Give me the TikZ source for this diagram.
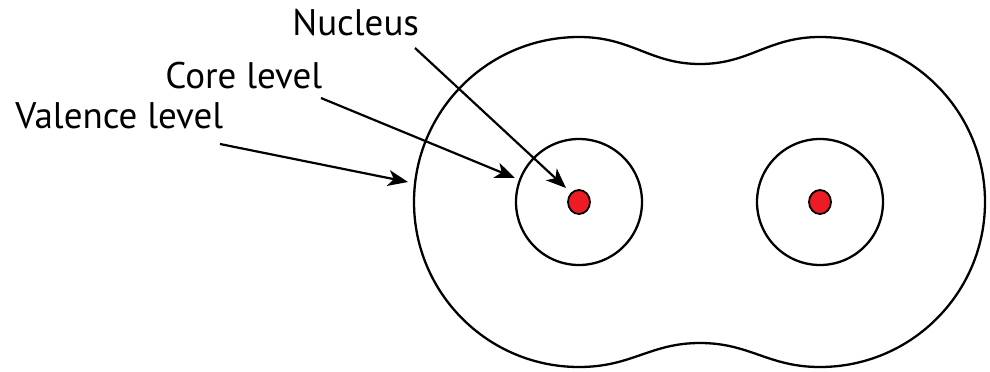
\documentclass[tikz,border=0pt]{standalone}
\usepackage{fontspec}
\setmainfont{PT Sans}
\usetikzlibrary{arrows.meta}
\definecolor{nucred}{HTML}{ED1C24}
\tikzset{
  shell/.style={line width=1.15pt},
  nucdot/.style={fill=nucred, draw=black, line width=0.9pt},
  lbl/.style={anchor=base west, inner sep=0pt, font=\fontsize{18.5}{20}\selectfont},
  pointer/.style={line width=1.1pt, -{Stealth[length=10pt,width=8pt,inset=2.8pt]}}
}
\begin{document}
\begin{tikzpicture}[x=0.5pt,y=0.5pt]
        \useasboundingbox (0,0) rectangle (990,371);
        \coordinate (L) at (579,169);
        \coordinate (R) at (820,169);
        % outer valence level
        \draw[shell] (579,334) arc[start angle=90, end angle=270, radius=165]
            .. controls (632,4) and (650,28) .. (700,28)
            .. controls (750,28) and (768,4) .. (820,4)
            arc[start angle=-90, end angle=90, radius=165]
            .. controls (768,334) and (750,307) .. (700,307)
            .. controls (650,307) and (632,334) .. (579,334) -- cycle;
        % core levels
        \draw[shell] (L) circle (63);
        \draw[shell] (R) circle (63);
        % nuclei
        \path[nucdot] (L) ellipse [x radius=11, y radius=12];
        \path[nucdot] (R) ellipse [x radius=11, y radius=12];
        % labels
        \node[lbl] (nuc) at (292,336) {Nucleus};
        \node[lbl] (core) at (165,283) {Core level};
        \node[lbl] (val) at (15,243) {Valence level};
        \coordinate (nucA) at (415,323);
        \coordinate (nucB) at (566,183);
        \coordinate (coreA) at (321,273);
        \coordinate (coreB) at (515,193);
        \coordinate (valA) at (220,227);
        \coordinate (valB) at (408,189);
        \draw[pointer] (nucA) -- (nucB);
        \draw[pointer] (coreA) -- (coreB);
        \draw[pointer] (valA) -- (valB);
\end{tikzpicture}
\end{document}
